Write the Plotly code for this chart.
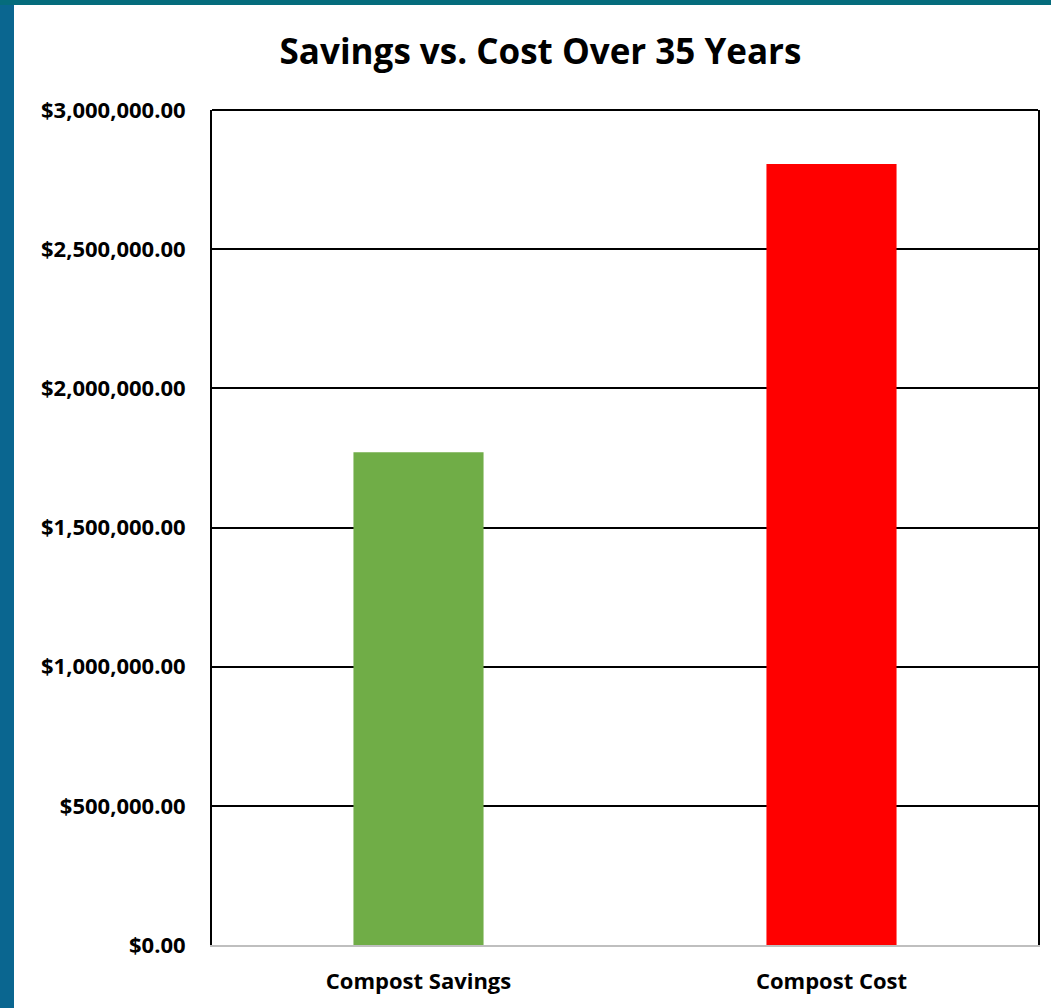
import plotly.graph_objects as go

categories = ["Compost Savings", "Compost Cost"]
values = [1770000, 2806000]
colors = ["#70AD47", "#FF0000"]
tick_vals = [0, 500000, 1000000, 1500000, 2000000, 2500000, 3000000]

W, H = 1051, 1008
L, R, T, B = 212, 13, 110, 63
pw = W - L - R
ph = H - T - B

def px_x(p):
    return (p - L) / pw

def px_y(p):
    return (H - B - p) / ph

fig = go.Figure()
fig.add_trace(go.Bar(x=categories, y=values, marker=dict(color=colors, line=dict(width=0)),
                     width=0.315))

font = "Open Sans"
fig.update_layout(
    width=W, height=H,
    margin=dict(l=L, r=R, t=T, b=B),
    paper_bgcolor="white", plot_bgcolor="white",
    showlegend=False,
    title=dict(text="Savings vs. Cost Over 35 Years", x=(278 + 803) / 2 / W, xanchor="center",
               y=1 - 52 / H, yanchor="middle",
               font=dict(family=font, size=35, color="black", weight="bold")),
    xaxis=dict(showline=True, linecolor="#BFBFBF", linewidth=2, ticks="",
               tickfont=dict(family=font, size=22, color="black", weight="bold"), showgrid=False),
    yaxis=dict(range=[0, 3000000], tickvals=tick_vals, tickformat="$,.2f",
               showgrid=True, gridcolor="black", gridwidth=1.5, zeroline=False,
               showline=True, linecolor="black", linewidth=2, mirror=True, ticks="",
               ticklen=0, tickfont=dict(family=font, size=22, color="black", weight="bold")),
)
fig.update_yaxes(ticklabelstandoff=20)
fig.update_xaxes(ticklabelstandoff=16)

shapes = [
    dict(type="rect", xref="paper", yref="paper", x0=px_x(0), x1=px_x(14), y0=px_y(H), y1=px_y(0),
         fillcolor="#0A6690", line=dict(width=0), layer="below"),
    dict(type="rect", xref="paper", yref="paper", x0=px_x(0), x1=px_x(W), y0=px_y(5), y1=px_y(0),
         fillcolor="#056C7C", line=dict(width=0), layer="below"),
    dict(type="line", xref="paper", yref="paper", x0=0, x1=1, y0=1, y1=1,
         line=dict(color="black", width=2)),
]
fig.update_layout(shapes=shapes)

fig.write_html("out.html", config={"displayModeBar": False},
               post_script="document.body.style.margin='0';document.body.style.overflow='hidden';")
